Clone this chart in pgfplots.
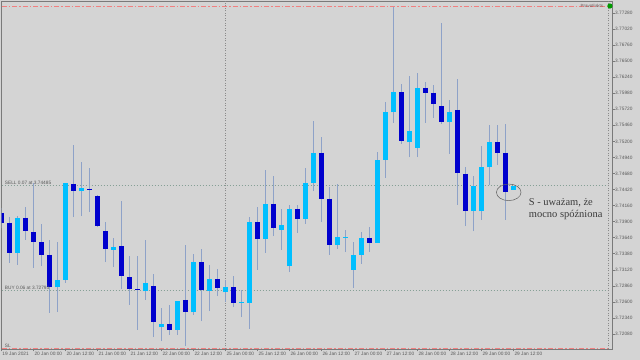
\documentclass[border=0pt]{standalone}
\usepackage{fontspec}
\setmainfont{Liberation Sans}
\newfontfamily\annotfont{Liberation Serif}
\usepackage{pgfplots}
\usepackage{pgfplotstable}
\pgfplotsset{compat=1.18}
\definecolor{bg}{HTML}{D4D4D4}
\definecolor{bullc}{HTML}{00BFFF}
\definecolor{bearc}{HTML}{0000CD}
\definecolor{wickc}{HTML}{8EA2C8}
\definecolor{axisc}{HTML}{7A7A7A}
\definecolor{txtc}{HTML}{5A5A5A}
\definecolor{orderc}{HTML}{86A096}
\definecolor{slc}{HTML}{F08080}
\definecolor{sepc}{HTML}{8A8A8A}

\pgfplotstableread{
x o h l c
2 3.73392 3.73991 3.73198 3.73959
7 3.72841 3.73570 3.72436 3.72955
8 3.72955 3.74526 3.72906 3.74526
10 3.74396 3.74866 3.73991 3.74445
14 3.73441 3.73635 3.73165 3.73489
18 3.72776 3.73603 3.72631 3.72906
20 3.72193 3.72501 3.71966 3.72242
22 3.72145 3.72614 3.72064 3.72614
24 3.72436 3.73376 3.72388 3.73246
26 3.72776 3.73198 3.72452 3.72971
28 3.72760 3.72955 3.72598 3.72841
30 3.72582 3.72793 3.72355 3.72598
31 3.72582 3.73975 3.72161 3.73894
33 3.73619 3.74737 3.73392 3.74186
35 3.73765 3.74105 3.73441 3.73846
36 3.73181 3.74170 3.73084 3.74105
38 3.73943 3.74769 3.73862 3.74526
39 3.74526 3.75530 3.74396 3.75012
42 3.73522 3.74510 3.73457 3.73651
43 3.73643 3.73765 3.73408 3.73659
44 3.73117 3.73570 3.72825 3.73360
45 3.73360 3.73732 3.73214 3.73635
47 3.73554 3.75028 3.73554 3.74899
48 3.74899 3.75838 3.74607 3.75676
49 3.75676 3.77377 3.75498 3.76000
51 3.75190 3.76259 3.74947 3.75368
52 3.75093 3.76308 3.74947 3.76065
56 3.75514 3.75871 3.74996 3.75676
59 3.74072 3.74639 3.73748 3.74477
60 3.74072 3.75125 3.73927 3.74785
61 3.74785 3.75466 3.74494 3.75190
64 3.74413 3.74477 3.74413 3.74477
}\bull

\pgfplotstableread{
x o h l c
0 3.74040 3.74121 3.73797 3.73878
1 3.73878 3.73975 3.73230 3.73392
3 3.73959 3.74137 3.73603 3.73748
4 3.73732 3.74526 3.73149 3.73570
5 3.73570 3.73862 3.73181 3.73360
6 3.73360 3.73603 3.72420 3.72841
9 3.74510 3.75142 3.73975 3.74396
11 3.74429 3.74769 3.74056 3.74413
12 3.74315 3.74332 3.73813 3.73829
13 3.73748 3.73894 3.73246 3.73457
15 3.73505 3.74234 3.72809 3.73019
16 3.73003 3.73343 3.72550 3.72809
17 3.72801 3.73343 3.72145 3.72785
19 3.72857 3.73052 3.72031 3.72274
21 3.72242 3.72550 3.72064 3.72145
23 3.72631 3.73522 3.71885 3.72436
25 3.73246 3.73457 3.72290 3.72793
27 3.72971 3.73133 3.72695 3.72825
29 3.72841 3.73019 3.72517 3.72582
32 3.73894 3.74137 3.73117 3.73619
34 3.74186 3.74639 3.73667 3.73797
37 3.74105 3.74170 3.73716 3.73943
40 3.75012 3.75271 3.73894 3.74267
41 3.74267 3.74461 3.73360 3.73522
46 3.73635 3.73813 3.73408 3.73554
50 3.76000 3.76130 3.75158 3.75206
53 3.76065 3.76162 3.75498 3.75984
54 3.75984 3.76114 3.75579 3.75806
55 3.75773 3.77118 3.75482 3.75514
57 3.75709 3.76211 3.74170 3.74688
58 3.74672 3.74785 3.73829 3.74072
62 3.75190 3.75466 3.74818 3.75012
63 3.75012 3.75482 3.73927 3.74380
}\bear

\begin{document}
\begin{tikzpicture}
\path[use as bounding box, fill=bg] (0,0) rectangle (640bp,360bp);
\begin{axis}[
  at={(1.5bp,11bp)}, anchor=south west,
  scale only axis, width=610.5bp, height=348bp,
  xmin=0, xmax=76.31, ymin=3.718368, ymax=3.774744,
  axis background/.style={fill=bg},
  axis line style={axisc, line width=0.8bp},
  clip mode=individual,
  xtick={0,4,...,64},
  xticklabels={19 Jan 2021, 20 Jan 00:00, 20 Jan 12:00, 21 Jan 00:00, 21 Jan 12:00, 22 Jan 00:00, 22 Jan 12:00, 25 Jan 00:00, 25 Jan 12:00, 26 Jan 00:00, 26 Jan 12:00, 27 Jan 00:00, 27 Jan 12:00, 28 Jan 00:00, 28 Jan 12:00, 29 Jan 00:00, 29 Jan 12:00},
  ytick={3.7208,3.7234,3.726,3.7286,3.7312,3.7338,3.7364,3.739,3.7416,3.7442,3.7468,3.7494,3.752,3.7546,3.7572,3.7598,3.7624,3.765,3.7676,3.7702,3.7728},
  yticklabels={3.72080,3.72340,3.72600,3.72860,3.73120,3.73380,3.73640,3.73900,3.74160,3.74420,3.74680,3.74940,3.75200,3.75460,3.75720,3.75980,3.76240,3.76500,3.76760,3.77020,3.77280},
  xtick pos=left, ytick pos=right, yticklabel pos=right,
  tick align=outside, major tick length=2.5bp,
  tick style={axisc, line width=0.5bp},
  tick label style={font=\fontsize{4.8}{5}\selectfont, text=txtc, inner sep=0.5bp},
  xticklabel style={anchor=north west, xshift=0.3bp},
  yticklabel style={anchor=west},
]
% reference lines
\addplot[slc, line width=0.9bp, dash pattern=on 5bp off 2bp on 1.5bp off 2bp] coordinates {(0,3.77393) (75.82,3.77393)};
\addplot[slc, line width=0.9bp, dash pattern=on 5bp off 2bp on 1.5bp off 2bp] coordinates {(0,3.71853) (75.82,3.71853)};
\addplot[orderc, line width=0.6bp, dash pattern=on 1bp off 2bp] coordinates {(0,3.74485) (75.82,3.74485)};
\addplot[orderc, line width=0.6bp, dash pattern=on 1bp off 2bp] coordinates {(0,3.72793) (75.82,3.72793)};
\addplot[sepc, line width=0.6bp, dash pattern=on 1bp off 1.5bp] coordinates {(28,3.718368) (28,3.774744)};
\addplot[sepc, line width=0.6bp, dash pattern=on 1bp off 1.5bp] coordinates {(75.82,3.718368) (75.82,3.774744)};
% wicks
\addplot[wickc, line width=1bp, quiver={u=0, v=\thisrow{h}-\thisrow{l}}] table[x=x, y=l] {\bull};
\addplot[wickc, line width=1bp, quiver={u=0, v=\thisrow{h}-\thisrow{l}}] table[x=x, y=l] {\bear};
% bodies
\addplot[wickc, line width=5.8bp, quiver={u=0, v=\thisrow{c}-\thisrow{o}}] table[x=x, y=o] {\bull};
\addplot[bullc, line width=4.4bp, quiver={u=0, v=\thisrow{c}-\thisrow{o}}] table[x=x, y=o] {\bull};
\addplot[wickc, line width=5.8bp, quiver={u=0, v=\thisrow{c}-\thisrow{o}}] table[x=x, y=o] {\bear};
\addplot[bearc, line width=4.4bp, quiver={u=0, v=\thisrow{c}-\thisrow{o}}] table[x=x, y=o] {\bear};
% labels
\node[anchor=south west, inner sep=0.5bp, font=\fontsize{4.8}{5}\selectfont, text=txtc] at (axis cs:0.34,3.74485) {SELL 0.07 at 3.74485};
\node[anchor=south west, inner sep=0.5bp, font=\fontsize{4.8}{5}\selectfont, text=txtc] at (axis cs:0.34,3.72793) {BUY 0.06 at 3.72793};
\node[anchor=south west, inner sep=0.5bp, font=\fontsize{4.8}{5}\selectfont, text=txtc] at (axis cs:0.34,3.71853) {SL};
\node[anchor=east, inner sep=0.5bp, font=\fontsize{4.5}{5}\selectfont, text={rgb,255:red,110;green,90;blue,90}] at (axis cs:75.3,3.77393) {PravoFakts};
\fill[green!60!black] (axis cs:76.05,3.77393) circle[radius=2.6bp];
% annotation
\draw[gray!75!black, line width=0.5bp] (axis cs:63.4,3.74375) ellipse[x radius=12.3bp, y radius=8.3bp];
\node[anchor=west, align=left, inner sep=0pt, font=\annotfont\fontsize{10.5}{12}\selectfont, text={rgb,255:red,60;green,60;blue,60}] at (axis cs:65.9,3.74105) {S - uważam, że\\mocno spóźniona};
\end{axis}
\end{tikzpicture}
\end{document}
